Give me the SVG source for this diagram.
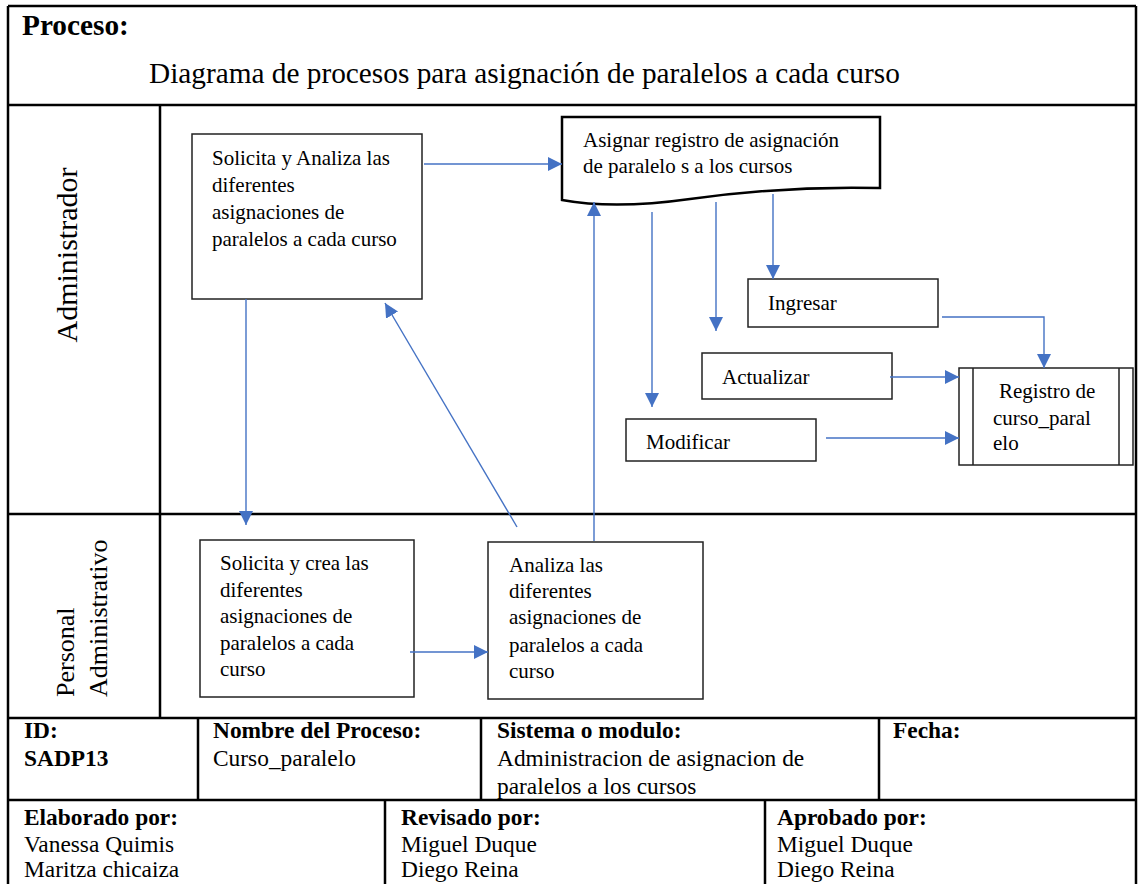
<svg xmlns="http://www.w3.org/2000/svg" width="1139" height="884" viewBox="0 0 1139 884">
<style>
text{font-family:"Liberation Serif","Times New Roman",serif;fill:#000}
.frame{stroke:#000;stroke-width:2.5;fill:none}
.box{fill:#fff;stroke:#222;stroke-width:1.5}
.doc{fill:#fff;stroke:#000;stroke-width:2.5}
.bt{font-size:21px}
.tt{font-size:23.4px}
.b{font-weight:bold}
.hd{font-size:29.3px}
.con{stroke:#4472C4;stroke-width:1.4;fill:none;marker-end:url(#ah)}
</style>
<defs>
<marker id="ah" markerUnits="userSpaceOnUse" markerWidth="14" markerHeight="14" refX="14" refY="7" orient="auto">
<path d="M0,0 L14,7 L0,14 Z" fill="#4472C4"/>
</marker>
</defs>
<rect width="1139" height="884" fill="#fff"/>
<g id="frame">
<path class="frame" d="M8,6 H1136 M8,6 V884 M1136,6 V884 M8,105 H1136 M8,514 H1136 M160,105 V718 M8,718 H1136 M8,800 H1136 M198,718 V800 M481,718 V800 M879,718 V800 M385,800 V884 M765,800 V884"/>
<text class="hd b" x="22" y="35">Proceso:</text>
<text class="hd" x="149" y="83">Diagrama de procesos para asignación de paralelos a cada curso</text>
<text font-size="30" transform="translate(77,255) rotate(-90)" text-anchor="middle">Administrador</text>
<text font-size="26" transform="translate(74,697) rotate(-90)">Personal</text>
<text font-size="26" transform="translate(107,697) rotate(-90)">Administrativo</text>
</g>
<g id="n1">
<rect class="box" x="192" y="134" width="230" height="165"/>
<text class="bt" x="212" y="165">Solicita y Analiza las</text>
<text class="bt" x="212" y="192">diferentes</text>
<text class="bt" x="212" y="219">asignaciones de</text>
<text class="bt" x="212" y="246">paralelos a cada curso</text>
</g>
<g id="n2">
<path class="doc" d="M562,117 H880 V188 C800,186 740,192 690,199 C640,206 600,207 562,200 Z"/>
<text class="bt" x="583" y="147">Asignar registro de asignación</text>
<text class="bt" x="583" y="173">de paralelo s a los cursos</text>
</g>
<g id="n3">
<rect class="box" x="748" y="279" width="190" height="48"/>
<text class="bt" x="768" y="310">Ingresar</text>
</g>
<g id="n4">
<rect class="box" x="702" y="353" width="190" height="46"/>
<text class="bt" x="722" y="384">Actualizar</text>
</g>
<g id="n5">
<rect class="box" x="626" y="419" width="190" height="42"/>
<text class="bt" x="646" y="449">Modificar</text>
</g>
<g id="n6">
<rect class="box" x="959" y="368" width="174" height="97"/>
<path d="M973,368 V465 M1119,368 V465" stroke="#222" stroke-width="1.5"/>
<text class="bt" x="999" y="398">Registro de</text>
<text class="bt" x="993" y="425">curso_paral</text>
<text class="bt" x="993" y="450">elo</text>
</g>
<g id="n7">
<rect class="box" x="200" y="540" width="214" height="157"/>
<text class="bt" x="220" y="570">Solicita y crea las</text>
<text class="bt" x="220" y="597">diferentes</text>
<text class="bt" x="220" y="623">asignaciones de</text>
<text class="bt" x="220" y="650">paralelos a cada</text>
<text class="bt" x="220" y="676">curso</text>
</g>
<g id="n8">
<rect class="box" x="488" y="542" width="215" height="157"/>
<text class="bt" x="509" y="572">Analiza las</text>
<text class="bt" x="509" y="598">diferentes</text>
<text class="bt" x="509" y="624">asignaciones de</text>
<text class="bt" x="509" y="652">paralelos a cada</text>
<text class="bt" x="509" y="678">curso</text>
</g>
<g id="connectors">
<path class="con" d="M424,164 H562"/>
<path class="con" d="M246,299 V525"/>
<path class="con" d="M517,527 L385,303"/>
<path class="con" d="M594,541 V202"/>
<path class="con" d="M652,212 V407"/>
<path class="con" d="M716,202 V331"/>
<path class="con" d="M773,194 V279"/>
<path class="con" d="M942,317 H1044 V368"/>
<path class="con" d="M890,377 H959"/>
<path class="con" d="M826,438 H959"/>
<path class="con" d="M410,652 H488"/>
</g>
<g id="table">
<text class="tt b" x="24" y="738">ID:</text>
<text class="tt b" x="24" y="766">SADP13</text>
<text class="tt b" x="213" y="738">Nombre del Proceso:</text>
<text class="tt" x="213" y="766">Curso_paralelo</text>
<text class="tt b" x="497" y="738">Sistema o modulo:</text>
<text class="tt" x="497" y="766">Administracion de asignacion de</text>
<text class="tt" x="497" y="794">paralelos a los cursos</text>
<text class="tt b" x="893" y="738">Fecha:</text>
<text class="tt b" x="24" y="825">Elaborado por:</text>
<text class="tt" x="24" y="852">Vanessa Quimis</text>
<text class="tt" x="24" y="877">Maritza chicaiza</text>
<text class="tt b" x="401" y="825">Revisado por:</text>
<text class="tt" x="401" y="852">Miguel Duque</text>
<text class="tt" x="401" y="877">Diego Reina</text>
<text class="tt b" x="777" y="825">Aprobado por:</text>
<text class="tt" x="777" y="852">Miguel Duque</text>
<text class="tt" x="777" y="877">Diego Reina</text>
</g>
</svg>
